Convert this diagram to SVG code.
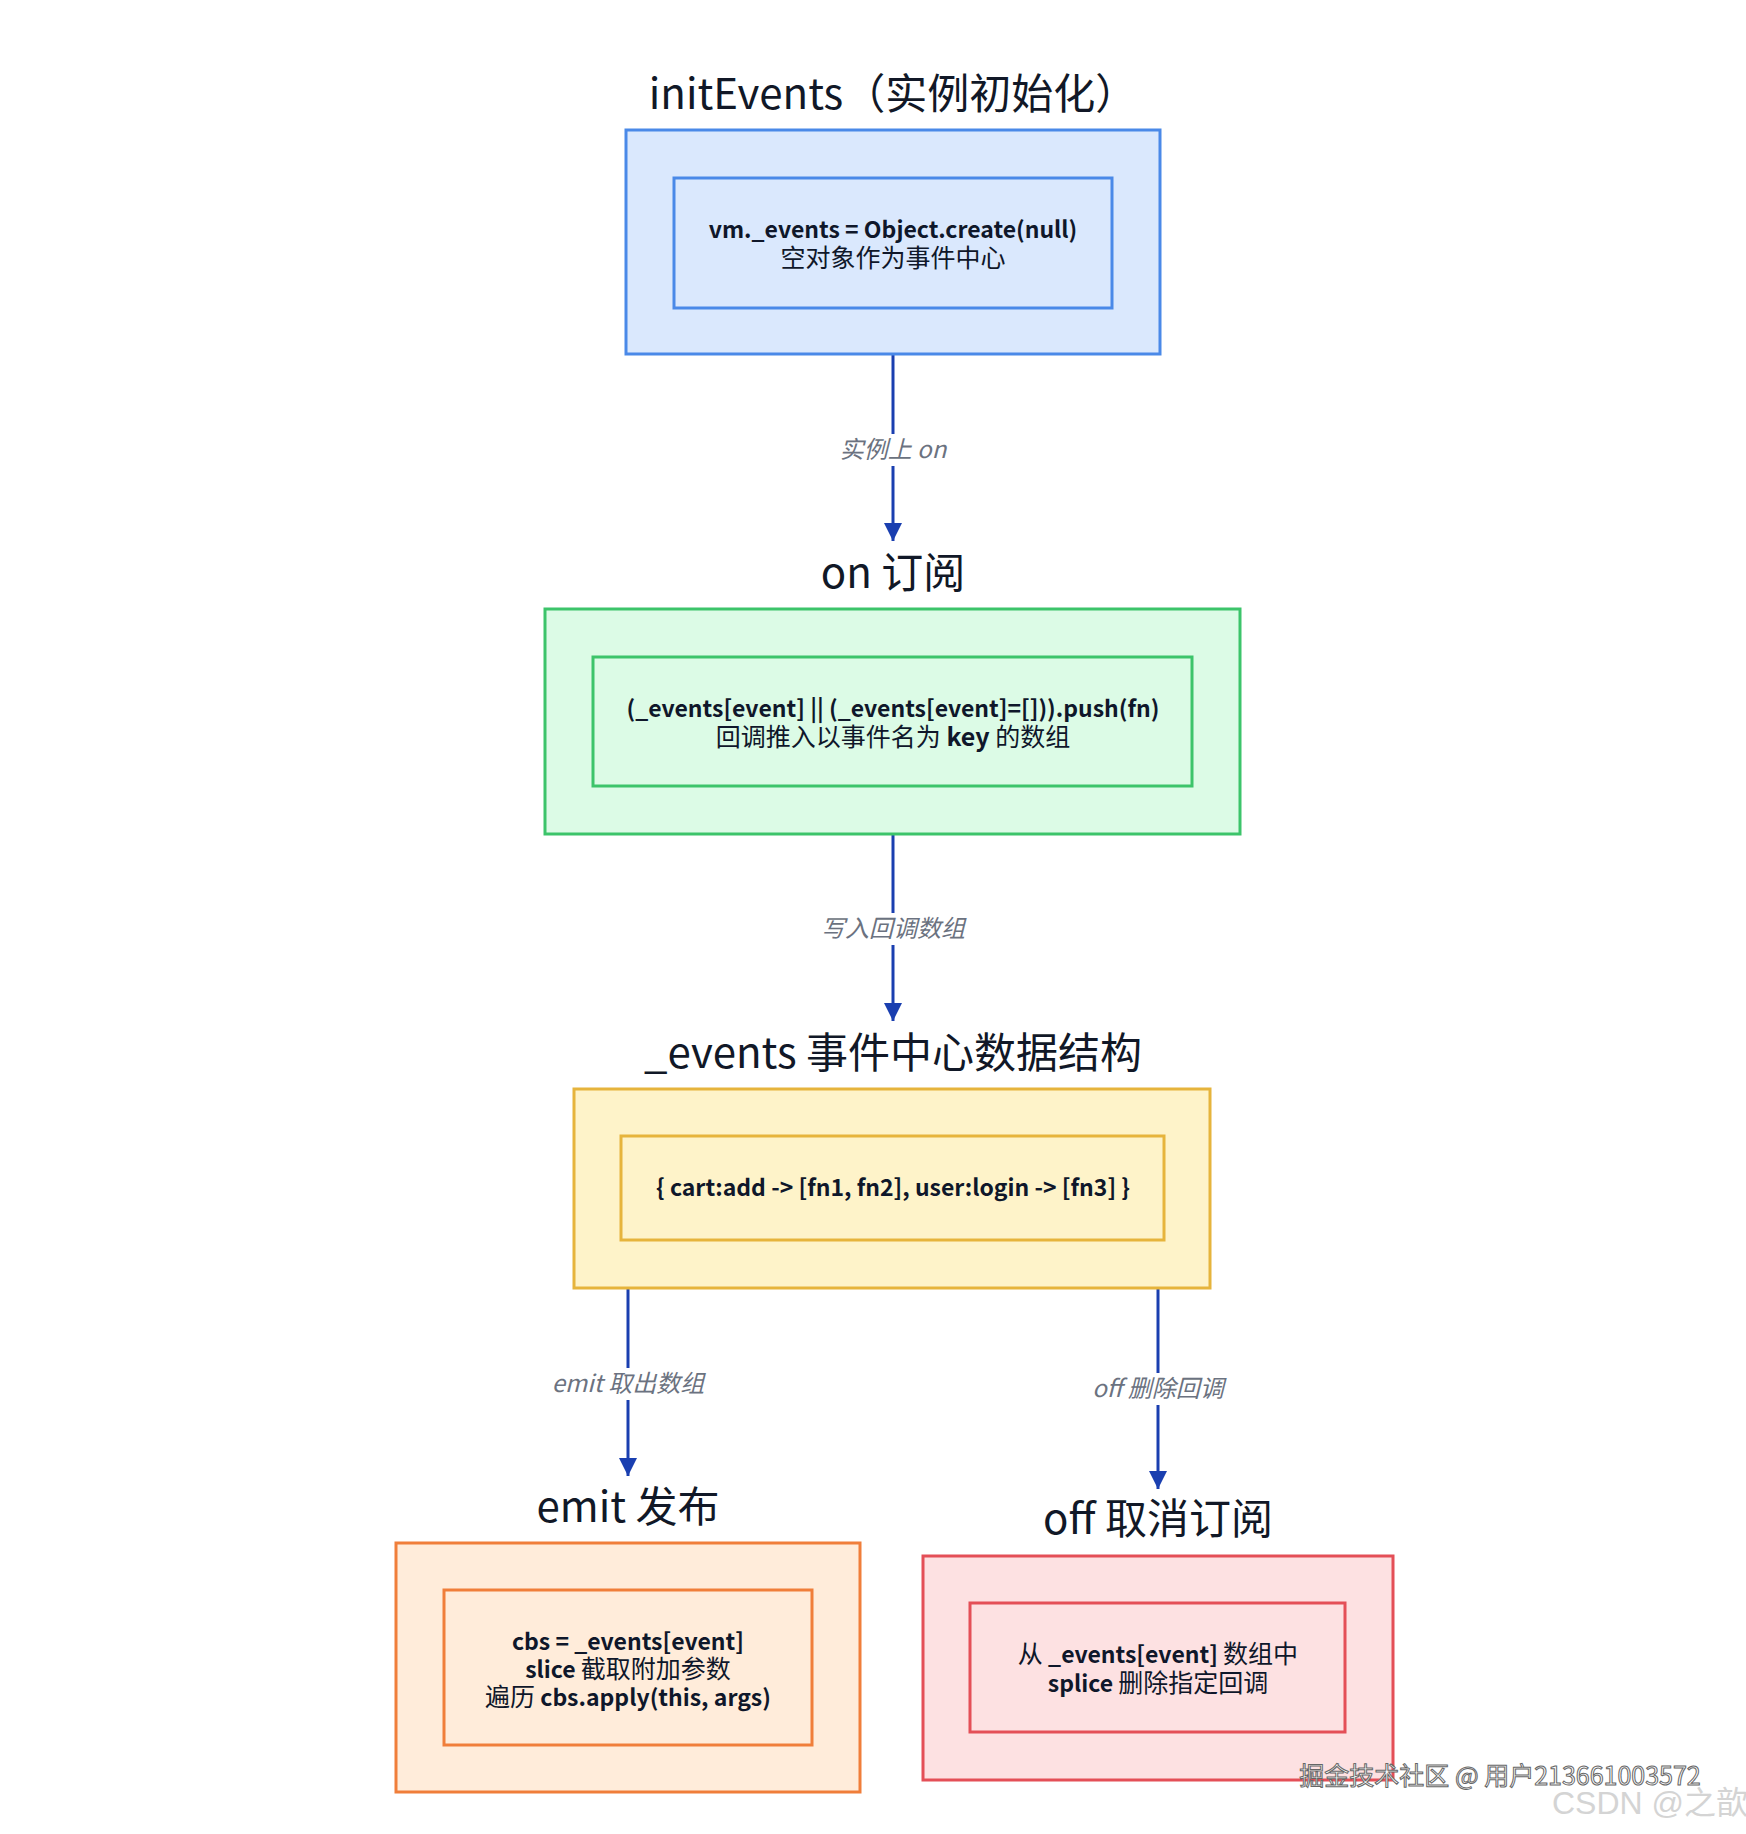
<svg xmlns="http://www.w3.org/2000/svg" width="1746" height="1834" viewBox="0 0 1746 1834">
<defs>
<marker id="arr" viewBox="0 0 10 10" refX="10" refY="5" markerWidth="6" markerHeight="6" markerUnits="strokeWidth" orient="auto">
<path d="M0,0 L10,5 L0,10 z" fill="#1a3fb0"/>
</marker>
</defs>
<style>
.title{font-family:"Noto Sans CJK SC","Noto Sans",sans-serif;font-size:42px;fill:#111827;text-anchor:middle;font-weight:normal}
.body{font-family:"Noto Sans CJK SC","Noto Sans",sans-serif;font-size:23px;fill:#0f172a;text-anchor:middle;font-weight:bold}
.cjk{font-size:25px;font-weight:normal}
.lbl{font-family:"Noto Sans CJK SC","Noto Sans",sans-serif;font-size:24px;fill:#6b7280;font-style:italic;text-anchor:middle}
.edge{stroke:#1a3fb0;stroke-width:3;fill:none}
.lblbg{fill:#ffffff}
.blue{fill:#dae8fd;stroke:#4a89e8;stroke-width:3}
.green{fill:#dcfbe6;stroke:#3cc46a;stroke-width:3}
.yellow{fill:#fef3c9;stroke:#e6b43c;stroke-width:3}
.orange{fill:#ffecda;stroke:#f07e3a;stroke-width:3}
.red{fill:#fde1e2;stroke:#e44f57;stroke-width:3}
</style>
<rect width="1746" height="1834" fill="#ffffff"/>

<g id="connectors">
<line class="edge" x1="893" y1="355" x2="893" y2="541" marker-end="url(#arr)"/>
<rect class="lblbg" x="828" y="434" width="130" height="32"/>
<text class="lbl" x="893" y="458">实例上 on</text>
<line class="edge" x1="893" y1="835" x2="893" y2="1021" marker-end="url(#arr)"/>
<rect class="lblbg" x="810" y="913" width="166" height="32"/>
<text class="lbl" x="893" y="937">写入回调数组</text>
<line class="edge" x1="628" y1="1289" x2="628" y2="1476" marker-end="url(#arr)"/>
<rect class="lblbg" x="546" y="1368" width="164" height="32"/>
<text class="lbl" x="628" y="1392">emit 取出数组</text>
<line class="edge" x1="1158" y1="1289" x2="1158" y2="1489" marker-end="url(#arr)"/>
<rect class="lblbg" x="1084" y="1373" width="148" height="32"/>
<text class="lbl" x="1158" y="1397">off 删除回调</text>
</g>

<g id="initEvents">
<text class="title" x="893" y="109">initEvents（实例初始化）</text>
<rect class="blue" x="626" y="130" width="534" height="224"/>
<rect class="blue" x="674" y="178" width="438" height="130"/>
<text class="body" x="893" y="238">vm._events = Object.create(null)</text>
<text class="body cjk" x="893" y="267">空对象作为事件中心</text>
</g>

<g id="on">
<text class="title" x="893" y="588">on 订阅</text>
<rect class="green" x="545" y="609" width="695" height="225"/>
<rect class="green" x="593" y="657" width="599" height="129"/>
<text class="body" x="893" y="717">(_events[event] || (_events[event]=[])).push(fn)</text>
<text class="body cjk" x="893" y="746">回调推入以事件名为 <tspan font-weight="bold">key</tspan> 的数组</text>
</g>

<g id="events">
<text class="title" x="893" y="1068">_events 事件中心数据结构</text>
<rect class="yellow" x="574" y="1089" width="636" height="199"/>
<rect class="yellow" x="621" y="1136" width="543" height="104"/>
<text class="body" x="893" y="1196">{ cart:add -&gt; [fn1, fn2], user:login -&gt; [fn3] }</text>
</g>

<g id="emit">
<text class="title" x="628" y="1522">emit 发布</text>
<rect class="orange" x="396" y="1543" width="464" height="249"/>
<rect class="orange" x="444" y="1590" width="368" height="155"/>
<text class="body" x="628" y="1650">cbs = _events[event]</text>
<text class="body" x="628" y="1678">slice <tspan class="cjk">截取附加参数</tspan></text>
<text class="body" x="628" y="1706"><tspan class="cjk">遍历</tspan> cbs.apply(this, args)</text>
</g>

<g id="off">
<text class="title" x="1158" y="1534">off 取消订阅</text>
<rect class="red" x="923" y="1556" width="470" height="224"/>
<rect class="red" x="970" y="1603" width="375" height="129"/>
<text class="body" x="1158" y="1663"><tspan class="cjk">从</tspan> _events[event] <tspan class="cjk">数组中</tspan></text>
<text class="body" x="1158" y="1692">splice <tspan class="cjk">删除指定回调</tspan></text>
</g>

<g id="watermark">
<text x="1500" y="1785" font-family="'Noto Sans CJK SC','Noto Sans',sans-serif" font-size="25" text-anchor="middle" fill="#ffffff" stroke="#666666" stroke-width="1">掘金技术社区 @ 用户213661003572</text>
<text x="1650" y="1814" font-family="'Liberation Sans','Noto Sans CJK SC',sans-serif" font-size="32" text-anchor="middle" fill="#d4d4d4">CSDN @之歆</text>
</g>
</svg>
